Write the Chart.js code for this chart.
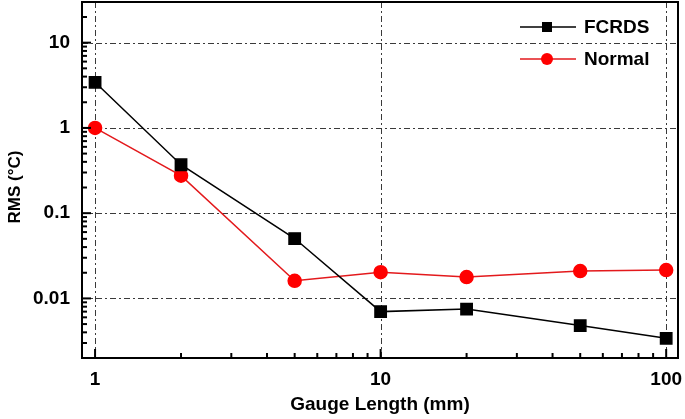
<!DOCTYPE html>
<html>
<head>
<meta charset="utf-8">
<script src="https://cdn.jsdelivr.net/npm/chart.js@4/dist/chart.umd.min.js"></script>
<style>
  html, body { margin: 0; padding: 0; background: #fff; }
  .chart-container { width: 685px; height: 419px; }
</style>
</head>
<body>
<div class="chart-container"><canvas id="rms"></canvas></div>
<script>
// gauge lengths (mm)
var gaugeLength = [1, 2, 5, 10, 20, 50, 100];
// RMS values (°C)
var fcrds = [3.43, 0.37, 0.0504, 0.0070, 0.0075, 0.0048, 0.0034];
var normal = [1.0, 0.275, 0.0161, 0.0203, 0.0178, 0.0209, 0.0215];

var xMajor = [1, 10, 100];
var yMajor = [0.01, 0.1, 1, 10];
var xMinor = [2, 3, 4, 5, 6, 7, 8, 9, 20, 30, 40, 50, 60, 70, 80, 90];
var yMinor = [];
[0.001, 0.01, 0.1, 1, 10].forEach(function (d) {
  for (var k = 2; k <= 9; k++) yMinor.push(+(d * k).toPrecision(3));
});

var font = 'Liberation Sans, Arial, sans-serif';
var redLine = '#e3191c';

function pts(ys) {
  return gaugeLength.map(function (x, i) { return { x: x, y: ys[i] }; });
}

// grid, inward ticks, frame, titles and legend
var decorPlugin = {
  id: 'decor',
  beforeDatasetsDraw: function (chart) {
    var ctx = chart.ctx, a = chart.chartArea;
    var xs = chart.scales.x, ys = chart.scales.y;
    ctx.save();
    ctx.strokeStyle = '#3a3a3a';
    ctx.lineWidth = 1;
    ctx.setLineDash([6, 3, 2, 3]);
    xMajor.forEach(function (v) {
      var px = Math.round(xs.getPixelForValue(v)) + 0.5;
      ctx.beginPath(); ctx.moveTo(px, a.top); ctx.lineTo(px, a.bottom); ctx.stroke();
    });
    yMajor.forEach(function (v) {
      var py = Math.round(ys.getPixelForValue(v)) + 0.5;
      ctx.beginPath(); ctx.moveTo(a.left, py); ctx.lineTo(a.right, py); ctx.stroke();
    });
    ctx.restore();
  },
  afterDatasetsDraw: function (chart) {
    var ctx = chart.ctx, a = chart.chartArea;
    var xs = chart.scales.x, ys = chart.scales.y;
    ctx.save();
    ctx.strokeStyle = '#000';
    ctx.lineWidth = 2;
    // ticks pointing inward
    function xt(v, len) {
      var px = xs.getPixelForValue(v);
      if (px < a.left || px > a.right) return;
      ctx.beginPath(); ctx.moveTo(px, a.bottom); ctx.lineTo(px, a.bottom - len); ctx.stroke();
    }
    function yt(v, len) {
      var py = ys.getPixelForValue(v);
      if (py < a.top || py > a.bottom) return;
      ctx.beginPath(); ctx.moveTo(a.left, py); ctx.lineTo(a.left + len, py); ctx.stroke();
    }
    xMajor.forEach(function (v) { xt(v, 9); });
    xMinor.forEach(function (v) { xt(v, 5); });
    yMajor.forEach(function (v) { yt(v, 9); });
    yMinor.forEach(function (v) { yt(v, 5); });
    // frame
    ctx.lineWidth = 2;
    ctx.strokeRect(a.left, a.top, a.right - a.left, a.bottom - a.top);

    // axis titles
    ctx.fillStyle = '#000';
    ctx.font = 'bold 19px ' + font;
    ctx.textAlign = 'center';
    ctx.textBaseline = 'middle';
    ctx.fillText('Gauge Length (mm)', (a.left + a.right) / 2, 405);
    ctx.save();
    ctx.translate(15, 187);
    ctx.rotate(-Math.PI / 2);
    ctx.font = 'bold 17px ' + font;
    ctx.fillText('RMS (\u00B0C)', 0, 0);
    ctx.restore();

    // legend
    var items = [
      { label: 'FCRDS', color: '#000', fill: '#000', style: 'rect', y: 27 },
      { label: 'Normal', color: redLine, fill: '#ff0000', style: 'circle', y: 59 }
    ];
    items.forEach(function (it) {
      ctx.strokeStyle = it.color;
      ctx.lineWidth = 1.5;
      ctx.beginPath(); ctx.moveTo(520, it.y); ctx.lineTo(576, it.y); ctx.stroke();
      ctx.fillStyle = it.fill;
      if (it.style === 'rect') {
        ctx.fillRect(542, it.y - 5, 10, 10);
      } else {
        ctx.beginPath(); ctx.arc(547, it.y, 6, 0, Math.PI * 2); ctx.fill();
      }
      ctx.fillStyle = '#000';
      ctx.font = 'bold 19px ' + font;
      ctx.textAlign = 'left';
      ctx.fillText(it.label, 584, it.y + 1);
    });
    ctx.restore();
  }
};

new Chart(document.getElementById('rms').getContext('2d'), {
  type: 'line',
  data: {
    datasets: [
      {
        label: 'FCRDS',
        data: pts(fcrds),
        borderColor: '#000',
        backgroundColor: '#000',
        borderWidth: 1.5,
        pointStyle: 'rect',
        pointRadius: 8,
        pointHoverRadius: 8,
        tension: 0
      },
      {
        label: 'Normal',
        data: pts(normal),
        borderColor: redLine,
        backgroundColor: '#ff0000',
        pointBorderColor: '#ff0000',
        borderWidth: 1.5,
        pointStyle: 'circle',
        pointRadius: 6.5,
        pointHoverRadius: 6.5,
        tension: 0
      }
    ]
  },
  options: {
    responsive: true,
    maintainAspectRatio: false,
    animation: false,
    layout: { autoPadding: false, padding: { top: 2, right: 7, left: 0, bottom: 0 } },
    plugins: {
      legend: { display: false },
      tooltip: { enabled: false }
    },
    scales: {
      x: {
        type: 'logarithmic',
        min: 0.9,
        max: 110,
        grid: { display: false, drawTicks: false },
        border: { display: false },
        afterBuildTicks: function (s) {
          s.ticks = xMajor.map(function (v) { return { value: v }; });
        },
        afterFit: function (s) {
          s.height = 61;
          s.paddingLeft = 0; s.paddingRight = 0;
        },
        ticks: {
          autoSkip: false,
          maxRotation: 0,
          padding: 10,
          color: '#000',
          font: { family: font, size: 19, weight: 'bold' },
          callback: function (v) { return String(v); }
        }
      },
      y: {
        type: 'logarithmic',
        min: 0.002,
        max: 30,
        grid: { display: false, drawTicks: false },
        border: { display: false },
        afterBuildTicks: function (s) {
          s.ticks = yMajor.map(function (v) { return { value: v }; });
        },
        afterFit: function (s) {
          s.width = 82;
          s.paddingTop = 0; s.paddingBottom = 0;
        },
        ticks: {
          autoSkip: false,
          padding: 12,
          color: '#000',
          font: { family: font, size: 19, weight: 'bold' },
          callback: function (v) { return String(v); }
        }
      }
    }
  },
  plugins: [decorPlugin]
});
</script>
</body>
</html>
